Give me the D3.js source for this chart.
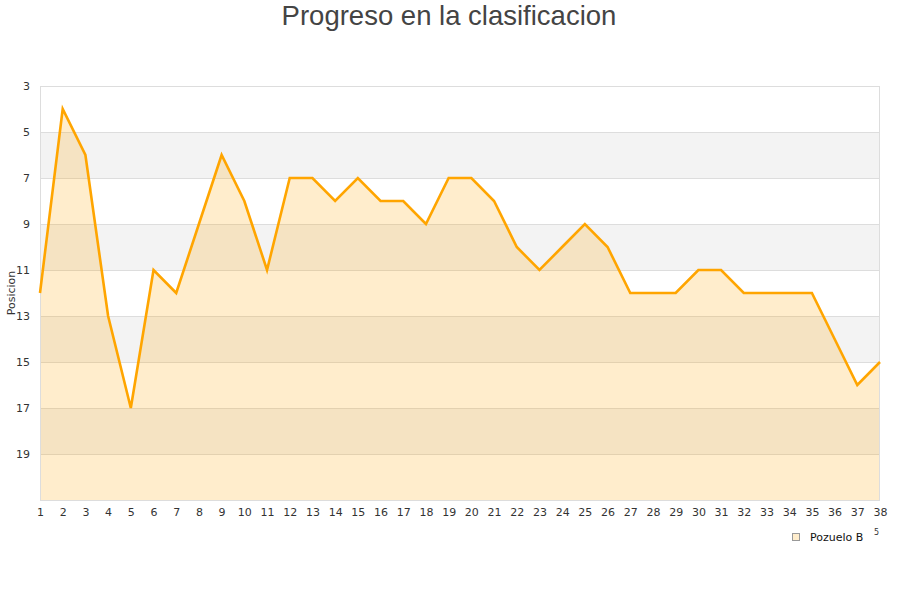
<!DOCTYPE html>
<html>
<head>
<meta charset="utf-8">
<script src="https://cdn.jsdelivr.net/npm/d3@7"></script>
<style>
  html, body { margin: 0; padding: 0; background: #fff; }
  svg { display: block; }
</style>
</head>
<body>
<svg id="chart" width="900" height="600"></svg>
<script>
const title = "Progreso en la clasificacion";
const yLabel = "Posicion";
const seriesName = "Pozuelo B";
const jornadas = d3.range(1, 39);
const posiciones = [12, 4, 6, 13, 17, 11, 12, 9, 6, 8, 11, 7, 7, 8, 7, 8, 8, 9, 7, 7, 8, 10, 11, 10, 9, 10, 12, 12, 12, 11, 11, 12, 12, 12, 12, 14, 16, 15];
const yTicks = [3, 5, 7, 9, 11, 13, 15, 17, 19];
const yDomain = [3, 21];

(function () {
const svg = d3.select("#chart");
const mL = 40, mR = 880, mT = 86, mB = 500;

const x = d3.scaleLinear().domain([1, 38]).range([mL, mR]);
const y = d3.scaleLinear().domain(yDomain).range([mT, mB]);

// bands
const bandEdges = d3.range(yDomain[0], yDomain[1], 2);
svg.append("g").selectAll("rect").data(bandEdges).join("rect")
  .attr("x", mL).attr("width", mR - mL)
  .attr("y", d => y(d)).attr("height", d => y(d + 2) - y(d))
  .attr("fill", (d, i) => i % 2 === 1 ? "#f3f3f3" : "#ffffff");

// grid lines
svg.append("g").selectAll("line").data(yTicks.concat([21])).join("line")
  .attr("x1", mL).attr("x2", mR)
  .attr("y1", d => y(d) + 0.5).attr("y2", d => y(d) + 0.5)
  .attr("stroke", "#dddddd").attr("stroke-width", 1);

const data = jornadas.map((j, i) => ({ j, p: posiciones[i] }));

// area
const area = d3.area()
  .x(d => x(d.j))
  .y0(y(yDomain[1]))
  .y1(d => y(d.p));
svg.append("path").datum(data)
  .attr("d", area)
  .attr("fill", "rgba(255,165,0,0.2)");

// border
svg.append("rect")
  .attr("x", mL + 0.5).attr("y", mT + 0.5)
  .attr("width", mR - mL - 1).attr("height", mB - mT)
  .attr("fill", "none").attr("stroke", "#dddddd");

// line
const line = d3.line().x(d => x(d.j)).y(d => y(d.p));
svg.append("path").datum(data)
  .attr("d", line)
  .attr("fill", "none")
  .attr("stroke", "#ffa500")
  .attr("stroke-width", 2.6)
  .attr("stroke-linejoin", "miter");

// y axis labels
const yAxis = d3.axisLeft(y).tickValues(yTicks).tickSize(0).tickPadding(10);
const gy = svg.append("g").attr("transform", `translate(${mL},0)`).call(yAxis);
gy.select(".domain").remove();
gy.selectAll("text")
  .attr("font-family", "DejaVu Sans, Verdana, sans-serif")
  .attr("font-size", 11).attr("fill", "#333");

// x axis labels
const xAxis = d3.axisBottom(x).tickValues(jornadas).tickSize(0).tickPadding(8).tickFormat(d3.format("d"));
const gx = svg.append("g").attr("transform", `translate(0,${mB})`).call(xAxis);
gx.select(".domain").remove();
gx.selectAll("text")
  .attr("font-family", "DejaVu Sans, Verdana, sans-serif")
  .attr("font-size", 11).attr("fill", "#333");

// title
svg.append("text")
  .attr("x", 449).attr("y", 25)
  .attr("text-anchor", "middle")
  .attr("font-family", "Liberation Sans, Arial, sans-serif")
  .attr("font-size", 27.5)
  .attr("fill", "#444")
  .text(title);

// y label
svg.append("text")
  .attr("transform", "translate(15,293) rotate(-90)")
  .attr("text-anchor", "middle")
  .attr("font-family", "DejaVu Sans, Verdana, sans-serif")
  .attr("font-size", 11).attr("fill", "#333")
  .text(yLabel);

// legend
svg.append("rect")
  .attr("x", 792.5).attr("y", 533.5).attr("width", 7).attr("height", 7)
  .attr("fill", "#ffedcc").attr("stroke", "#999");
svg.append("text")
  .attr("x", 810).attr("y", 541)
  .attr("font-family", "DejaVu Sans, Verdana, sans-serif")
  .attr("font-size", 11).attr("fill", "#111")
  .text(seriesName);
svg.append("text")
  .attr("x", 874).attr("y", 535)
  .attr("font-family", "DejaVu Sans, Verdana, sans-serif")
  .attr("font-size", 8).attr("fill", "#333")
  .text("5");
})();
</script>
</body>
</html>
